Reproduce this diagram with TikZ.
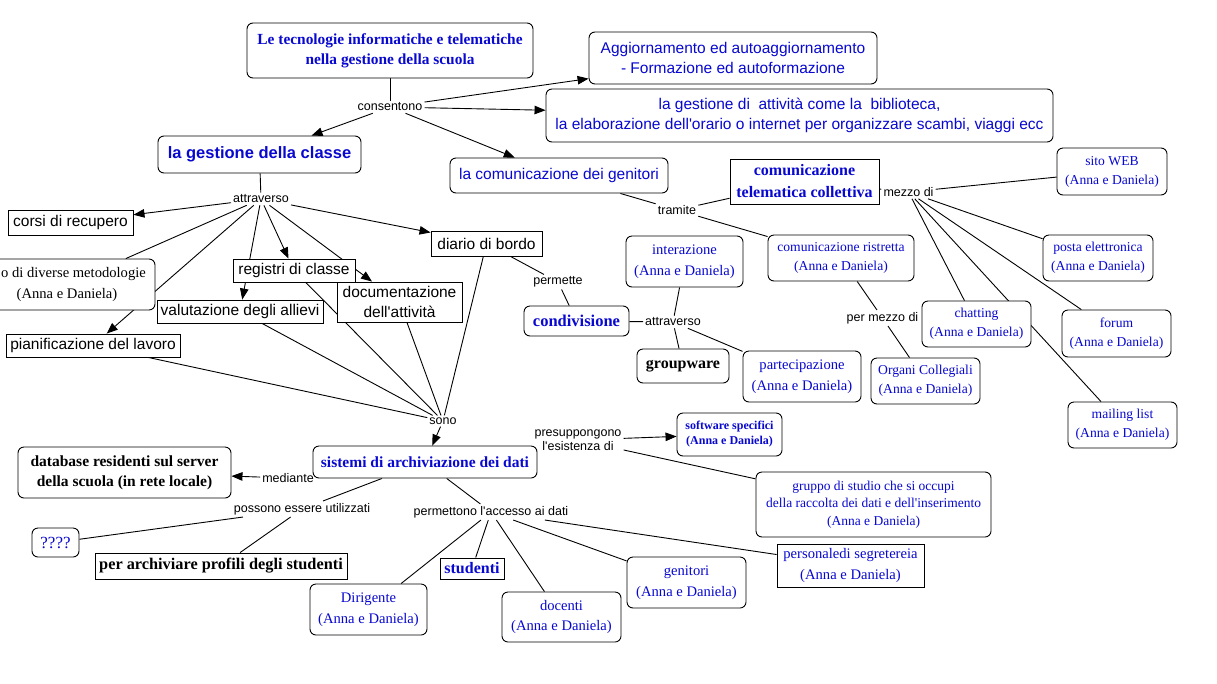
\documentclass[tikz,border=0pt]{standalone}
\usepackage{fontspec}
\setmainfont{Liberation Serif}
\setsansfont{Liberation Sans}
\newfontfamily\apsans{Liberation Sans}
\newfontfamily\apserif{Liberation Serif}
\newcommand{\aps}{{\apsans '}}
\newcommand{\apr}{{\apserif '}}
\usetikzlibrary{arrows.meta}
\definecolor{cmblue}{RGB}{8,8,208}
\pgfdeclarelayer{bg}
\pgfsetlayers{bg,main}
\newcommand{\fsz}[2]{\fontsize{#1}{#2}\selectfont}
\begin{document}
\begin{tikzpicture}[x=1pt,y=-1pt,
  box/.style={draw, fill=white, inner sep=0pt, align=center, line width=0.9pt},
  rbox/.style={box, rounded corners=6pt},
  sbox/.style={box},
  sz/.style 2 args={minimum width=#1, minimum height=#2},
  lbl/.style={inner sep=2pt, align=center, font=\sffamily\fsz{12.5}{14}},
  sansbox/.style={font=\sffamily\fsz{15.5}{20}},
  serS/.style={font=\fsz{13.6}{19}},
  serM/.style={font=\fsz{14.6}{20.5}},
  blu/.style={text=cmblue},
  con/.style={line width=0.9pt},
  arr/.style={con, -{Triangle[length=11pt,width=8.5pt]}}
]
\useasboundingbox (0,0) rectangle (1217,683);

% ---- nodes ----
\node[rbox, sz={286pt}{55pt}, blu, font=\bfseries\fsz{15.4}{20}] (title) at (390,50.5) {Le tecnologie informatiche e telematiche\\nella gestione della scuola};
\node[lbl] (cons) at (390,107) {consentono};
\node[rbox, sz={203pt}{37pt}, blu, font=\sffamily\bfseries\fsz{16.5}{20}] (gclasse) at (259.5,154.5) {la gestione della classe};
\node[rbox, sz={288pt}{52pt}, blu, sansbox] (aggiorn) at (733,58) {Aggiornamento ed autoaggiornamento\\- Formazione ed autoformazione};
\node[rbox, sz={507pt}{53pt}, blu, sansbox] (attivita) at (799.5,115.5) {la gestione di\ \ attività come la\ \ biblioteca,\\la elaborazione dell\aps orario o internet per organizzare scambi, viaggi ecc};
\node[rbox, sz={218pt}{35pt}, blu, sansbox] (comgen) at (559,175.5) {la comunicazione dei genitori};
\node[lbl] (tramite) at (677,210) {tramite};
\node[sbox, sz={149pt}{45pt}, blu, font=\bfseries\fsz{16}{22}] (telem) at (804.5,181.5) {comunicazione\\telematica collettiva};
\node[lbl] (mezzo) at (908.5,192) {mezzo di};
\node[rbox, sz={110pt}{47pt}, blu, serS] (sito) at (1112,171.5) {sito WEB\\(Anna e Daniela)};
\node[rbox, sz={110pt}{46pt}, blu, serS] (posta) at (1098,258) {posta elettronica\\(Anna e Daniela)};
\node[rbox, sz={109pt}{47pt}, blu, serS] (forum) at (1116.5,333.5) {forum\\(Anna e Daniela)};
\node[rbox, sz={109pt}{46pt}, blu, serS] (chat) at (976.5,324) {chatting\\(Anna e Daniela)};
\node[rbox, sz={109pt}{46pt}, blu, serS] (mailing) at (1122.5,425) {mailing list\\(Anna e Daniela)};
\node[rbox, sz={146pt}{46pt}, blu, serS] (ristr) at (841,258) {comunicazione ristretta\\(Anna e Daniela)};
\node[lbl] (permezzo) at (882.5,318) {per mezzo di};
\node[rbox, sz={109pt}{46pt}, blu, serS] (organi) at (925.5,381) {Organi Collegiali\\(Anna e Daniela)};
\node[rbox, sz={117pt}{51pt}, blu, serM] (interaz) at (684.5,261.5) {interazione\\(Anna e Daniela)};
\node[rbox, sz={105pt}{30pt}, blu, font=\bfseries\fsz{16.5}{20}] (condiv) at (576.5,321) {condivisione};
\node[lbl] (attr2) at (673,322) {attraverso};
\node[rbox, sz={92pt}{34pt}, font=\bfseries\fsz{16}{20}] (groupw) at (683,366) {groupware};
\node[rbox, sz={118pt}{51pt}, blu, serM] (partec) at (802,376.5) {partecipazione\\(Anna e Daniela)};
\node[lbl] (permette) at (558,282) {permette};
\node[sbox, sz={111pt}{25pt}, sansbox] (diario) at (486.5,243.5) {diario di bordo};
\node[lbl] (attr1) at (261,199) {attraverso};
\node[sbox, sz={125pt}{25pt}, sansbox] (corsi) at (70.5,222.5) {corsi di recupero};
\node[rbox, sz={176pt}{51pt}, serM] (metod) at (67,284.5) {\phantom{us}o di diverse metodologie\\(Anna e Daniela)};
\node[sbox, sz={122pt}{23pt}, sansbox] (registri) at (294,270.5) {registri di classe};
\node[sbox, sz={166pt}{23pt}, sansbox] (valut) at (240,311.5) {valutazione degli allievi};
\node[sbox, sz={125pt}{40pt}, sansbox] (docum) at (399.5,302) {documentazione\\dell\aps attività};
\node[sbox, sz={174pt}{23pt}, sansbox] (pianif) at (93,345.5) {pianificazione del lavoro};
\node[lbl] (sono) at (443,421) {sono};
\node[rbox, sz={224pt}{32pt}, blu, font=\bfseries\fsz{15.5}{20}] (sistemi) at (425,462) {sistemi di archiviazione dei dati};
\node[lbl] (presup) at (578,440) {presuppongono\\l\aps esistenza di};
\node[rbox, sz={105pt}{43pt}, blu, font=\bfseries\fsz{12}{15}] (software) at (729.5,434.5) {software specifici\\(Anna e Daniela)};
\node[rbox, sz={235pt}{65pt}, blu, font=\fsz{13.5}{17.5}] (gruppo) at (873.5,504.5) {gruppo di studio che si occupi\\della raccolta dei dati e dell\apr inserimento\\(Anna e Daniela)};
\node[lbl] (mediante) at (288,478) {mediante};
\node[rbox, sz={213pt}{51pt}, font=\bfseries\fsz{15.5}{20}] (database) at (124.5,472.5) {database residenti sul server\\della scuola (in rete locale)};
\node[lbl] (possono) at (302,509) {possono essere utilizzati};
\node[rbox, sz={47pt}{29pt}, blu, font=\fsz{17}{20}] (qqq) at (55.5,542.5) {????};
\node[sbox, sz={252pt}{26pt}, font=\bfseries\fsz{16.3}{20}] (archiv) at (221,566) {per archiviare profili degli studenti};
\node[lbl] (permett) at (491,512) {permettono l\aps accesso ai dati};
\node[rbox, sz={117pt}{51pt}, blu, serM] (dirig) at (368.5,609.5) {Dirigente\\(Anna e Daniela)};
\node[sbox, sz={64pt}{21pt}, blu, font=\bfseries\fsz{16}{20}] (studenti) at (472,568.5) {studenti};
\node[rbox, sz={119pt}{50pt}, blu, serM] (docenti) at (561.5,617) {docenti\\(Anna e Daniela)};
\node[rbox, sz={119pt}{51pt}, blu, serM] (genitori) at (686.5,582.5) {genitori\\(Anna e Daniela)};
\node[sbox, sz={147pt}{43pt}, blu, serM] (personale) at (850.5,565.5) {personaledi segretereia\\(Anna e Daniela)};

% ---- background and connectors ----
\begin{pgfonlayer}{bg}
\fill[white] (0,0) rectangle (1217,683);
\draw[con] (title) -- (cons);
\draw[arr] (cons) -- (gclasse);
\draw[arr] (cons) -- (aggiorn);
\draw[arr] (cons) -- (attivita);
\draw[arr] (cons) -- (comgen);
\draw[con] (comgen) -- (tramite);
\draw[con] (tramite) -- (telem);
\draw[con] (tramite) -- (ristr);
\draw[con] (telem) -- (mezzo);
\draw[con] (mezzo) -- (sito);
\draw[con] (mezzo) -- (posta);
\draw[con] (mezzo) -- (forum);
\draw[con] (mezzo) -- (chat);
\draw[con] (mezzo) -- (mailing);
\draw[con] (ristr) -- (permezzo);
\draw[con] (permezzo) -- (organi);
\draw[con] (gclasse) -- (attr1);
\draw[arr] (attr1) -- (corsi);
\draw[arr] (attr1) -- (diario);
\draw[con] (attr1) -- (metod);
\draw[arr] (attr1) -- (pianif);
\draw[arr] (attr1) -- (valut);
\draw[arr] (attr1) -- (registri);
\draw[arr] (attr1) -- (docum);
\draw[con] (diario) -- (permette);
\draw[con] (permette) -- (condiv);
\draw[con] (condiv) -- (attr2);
\draw[con] (attr2) -- (interaz);
\draw[con] (attr2) -- (groupw);
\draw[con] (attr2) -- (partec);
\draw[con] (pianif) -- (sono);
\draw[con] (valut) -- (sono);
\draw[con] (registri) -- (sono);
\draw[con] (docum) -- (sono);
\draw[con] (diario) -- (sono);
\draw[arr] (sono) -- (sistemi);
\draw[arr] (presup) -- (software);
\draw[con] (presup) -- (gruppo);
\draw[arr] (mediante) -- (database);
\draw[con] (sistemi) -- (possono);
\draw[con] (possono) -- (qqq);
\draw[con] (possono) -- (archiv);
\draw[con] (sistemi) -- (permett);
\draw[con] (permett) -- (dirig);
\draw[con] (permett) -- (studenti);
\draw[con] (permett) -- (docenti);
\draw[con] (permett) -- (genitori);
\draw[con] (permett) -- (personale);
\end{pgfonlayer}
\end{tikzpicture}
\end{document}
